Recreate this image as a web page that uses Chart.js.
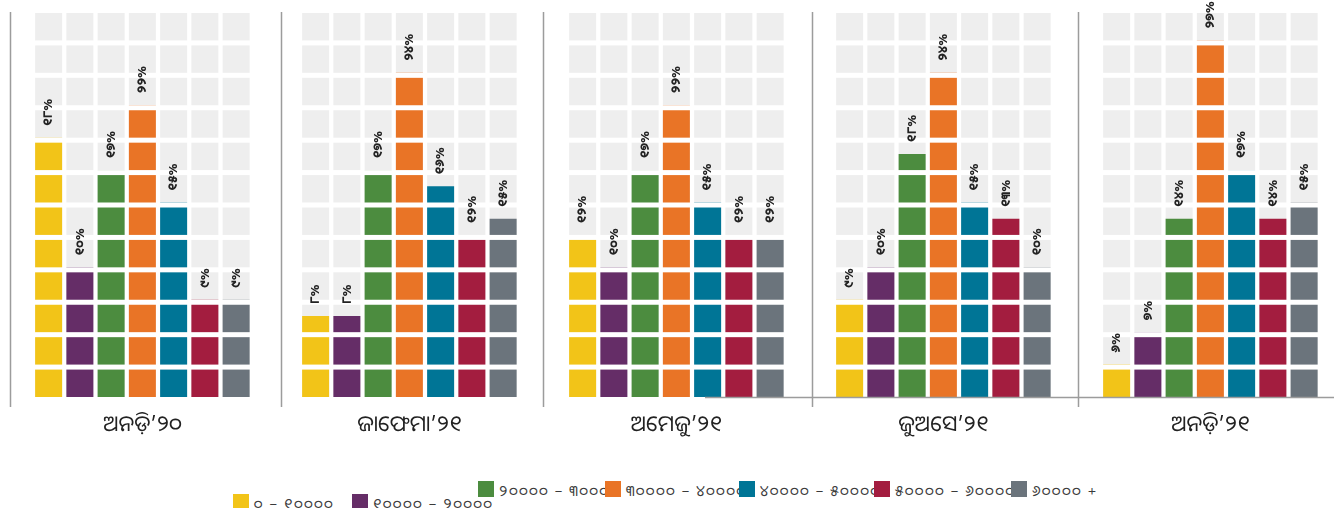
<!DOCTYPE html>
<html>
<head>
<meta charset="utf-8">
<script src="https://cdn.jsdelivr.net/npm/chart.js@4.4.1/dist/chart.umd.min.js"></script>
<style>
  body { margin: 0; background: #fff; width: 1334px; height: 508px; overflow: hidden; position: relative;
         font-family: "Noto Sans Oriya", "Lohit Odia", "Noto Sans", "DejaVu Sans", sans-serif; }
  .panel { position: absolute; top: 0; width: 270px; height: 450px; }
  .leg { position: absolute; font-size: 15px; color: #3a3a3a; letter-spacing: 1.6px; white-space: nowrap; line-height: 16px; }
  .sw { position: absolute; width: 16px; height: 16px; }
</style>
</head>
<body>
<div id="charts"></div>
<div id="legend"></div>
<script>
// income bands (legend) and their colours
const bands = ['୦ – ୧୦୦୦୦', '୧୦୦୦୦ – ୨୦୦୦୦', '୨୦୦୦୦ – ୩୦୦୦୦', '୩୦୦୦୦ – ୪୦୦୦୦', '୪୦୦୦୦ – ୫୦୦୦୦', '୫୦୦୦୦ – ୬୦୦୦୦', '୬୦୦୦୦ +'];
const colors = ['#F2C418', '#652D67', '#4C8C3F', '#E97426', '#007596', '#A31D3F', '#6B747C'];

// quarters
const quarters = ['ଅନଡ଼ି’୨୦', 'ଜାଫେମା’୨୧', 'ଅମେଜୁ’୨୧', 'ଜୁଅସେ’୨୧', 'ଅନଡ଼ି’୨୧'];

// percent shown on each column
const ond20Pct = [18, 10, 17, 22, 15, 9, 9];
const jfm21Pct = [8, 8, 17, 24, 16, 12, 15];
const amj21Pct = [12, 10, 17, 22, 15, 12, 12];
const jas21Pct = [9, 10, 18, 24, 15, 13, 10];
const ond21Pct = [6, 7, 14, 27, 17, 14, 15];

// filled squares drawn for each column (out of 12)
const ond20Squares = [8, 4, 7, 9, 6, 3, 3];
const jfm21Squares = [2.5, 2.5, 7, 10, 6.5, 5, 5.5];
const amj21Squares = [5, 4, 7, 9, 6, 5, 5];
const jas21Squares = [3, 4, 7.5, 10, 6, 5.5, 4];
const ond21Squares = [1, 2, 5.5, 11, 7, 5.5, 6];

const rows = 12;

const pctList = [ond20Pct, jfm21Pct, amj21Pct, jas21Pct, ond21Pct];
const squaresList = [ond20Squares, jfm21Squares, amj21Squares, jas21Squares, ond21Squares];

const odiaDigits = '୦୧୨୩୪୫୬୭୮୯';
function toOdia(n) {
  return String(n).split('').map(d => odiaDigits[+d]).join('');
}

const fontFamily = '"Noto Sans Oriya", "Lohit Odia", "Noto Sans", "DejaVu Sans", sans-serif';

// draws the white gaps, labels, panel lines and title
const wafflePlugin = {
  id: 'waffle',
  afterDatasetsDraw(chart, args, opts) {
    const ctx = chart.ctx;
    const y = chart.scales.y;
    const area = chart.chartArea;
    ctx.save();
    // white gaps between rows
    ctx.fillStyle = '#fff';
    for (let k = 1; k <= rows; k++) {
      ctx.fillRect(area.left, y.getPixelForValue(k), area.right - area.left, 5);
    }
    // percent labels
    ctx.fillStyle = '#222';
    ctx.font = 'bold 13px ' + fontFamily;
    ctx.textAlign = 'left';
    ctx.textBaseline = 'middle';
    chart.getDatasetMeta(0).data.forEach((bar, i) => {
      ctx.save();
      ctx.translate(bar.x, bar.y - 12);
      ctx.rotate(-Math.PI / 2);
      ctx.fillText(toOdia(opts.pct[i]) + '%', 0, 0);
      ctx.restore();
    });
    // left line
    ctx.strokeStyle = '#9c9c9c';
    ctx.lineWidth = 1.5;
    ctx.beginPath();
    ctx.moveTo(opts.lineX, 12);
    ctx.lineTo(opts.lineX, 407);
    ctx.stroke();
    // bottom line
    if (opts.baseFrom !== null) {
      ctx.beginPath();
      ctx.moveTo(opts.baseFrom, y.getPixelForValue(0) + 0.5);
      ctx.lineTo(chart.width, y.getPixelForValue(0) + 0.5);
      ctx.stroke();
    }
    // quarter title
    ctx.fillStyle = '#222';
    ctx.font = '22px ' + fontFamily;
    ctx.textAlign = 'center';
    ctx.fillText(opts.title, (area.left + area.right) / 2, 425);
    ctx.restore();
  }
};

const panelLeft = [8, 275, 542, 809, 1076];
const lineX = [2.5, 6.5, 1.5, 3.5, 2.5];
const baseFrom = [null, null, 163, 3, 2];
const holder = document.getElementById('charts');

quarters.forEach((q, p) => {
  const canvas = document.createElement('canvas');
  canvas.className = 'panel';
  canvas.width = 270;
  canvas.height = 450;
  canvas.style.left = panelLeft[p] + 'px';
  holder.appendChild(canvas);

  new Chart(canvas.getContext('2d'), {
    type: 'bar',
    data: {
      labels: bands,
      datasets: [
        {
          data: squaresList[p],
          backgroundColor: colors,
          grouped: false,
          order: 0,
          barPercentage: 0.864,
          categoryPercentage: 1
        },
        {
          data: bands.map(() => rows),
          backgroundColor: '#EEEEEE',
          grouped: false,
          order: 1,
          barPercentage: 0.864,
          categoryPercentage: 1
        }
      ]
    },
    options: {
      responsive: false,
      animation: false,
      events: [],
      layout: { padding: { left: 25, right: 26.25, top: 8, bottom: 53 } },
      scales: {
        x: { display: false },
        y: { display: false, min: 0, max: rows }
      },
      plugins: {
        legend: { display: false },
        tooltip: { enabled: false },
        waffle: { pct: pctList[p], title: q, baseFrom: baseFrom[p], lineX: lineX[p] }
      }
    },
    plugins: [wafflePlugin]
  });
});

// legend laid out like the original (two overlapping rows)
const legendPos = [
  [233, 494], [352, 494], [478, 481], [605, 481], [739, 481], [874, 481], [1011, 481]
];
const legend = document.getElementById('legend');
bands.forEach((b, i) => {
  const sw = document.createElement('div');
  sw.className = 'sw';
  sw.style.background = colors[i];
  sw.style.left = legendPos[i][0] + 'px';
  sw.style.top = legendPos[i][1] + 'px';
  legend.appendChild(sw);
  const t = document.createElement('div');
  t.className = 'leg';
  t.textContent = b;
  t.style.left = (legendPos[i][0] + 21) + 'px';
  t.style.top = (legendPos[i][1] + 1) + 'px';
  legend.appendChild(t);
});
</script>
</body>
</html>
